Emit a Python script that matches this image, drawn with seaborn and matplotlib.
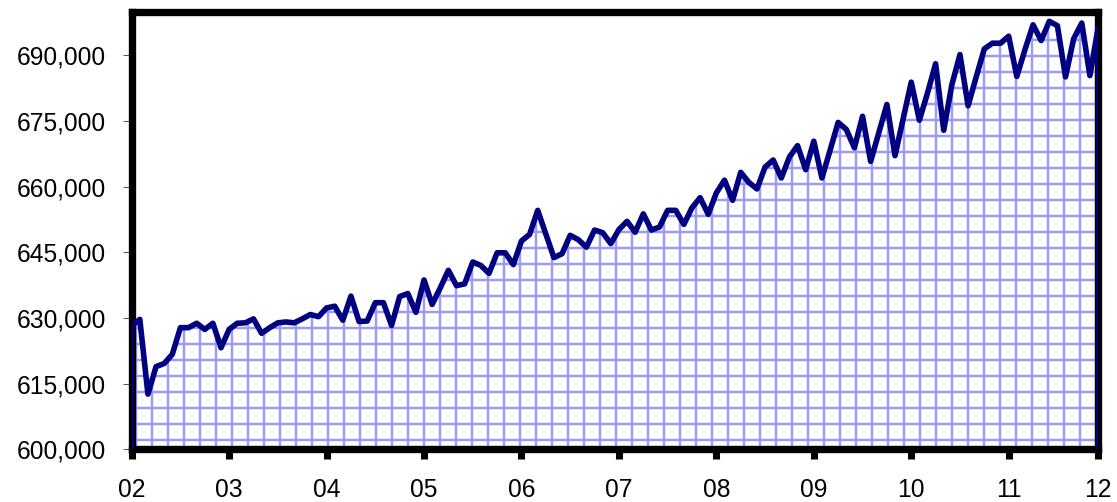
import numpy as np
import pandas as pd
import matplotlib
matplotlib.use('Agg')
import matplotlib.pyplot as plt
import matplotlib.ticker as mticker
import seaborn as sns

## Monthly values, Jan 2002 - Dec 2011 (in persons)
employment = [628200, 629700, 612600, 618900, 619600, 621700, 627800, 627800, 628800, 627400, 628800, 623200,
              627400, 628800, 628900, 629800, 626500, 627800, 628900, 629100, 628900, 629800, 630800, 630300,
              632300, 632700, 629500, 635000, 629200, 629300, 633500, 633500, 628300, 634900, 635600, 631300,
              638700, 633100, 636900, 640900, 637400, 637800, 642800, 642000, 640200, 644900, 644900, 642200,
              647600, 649100, 654600, 649200, 643800, 644700, 648900, 647900, 646200, 650100, 649500, 647000,
              650200, 652100, 649600, 653800, 650100, 650800, 654600, 654600, 651400, 655200, 657500, 653700,
              658600, 661500, 656900, 663300, 661000, 659500, 664500, 666100, 662000, 666800, 669400, 663900,
              670400, 662000, 668300, 674700, 673100, 668900, 676100, 665800, 672300, 678800, 667100, 675500,
              683900, 675200, 681400, 688100, 672900, 683300, 690200, 678500, 685100, 691500, 692800, 692800,
              694400, 685200, 691300, 697000, 693400, 697800, 696800, 685100, 693800, 697400, 685400, 696200]
year_labels = ['02', '03', '04', '05', '06', '07', '08', '09', '10', '11', '12']
y_ticks = [600000, 615000, 630000, 645000, 660000, 675000, 690000]
y_floor = 600000
y_top = 700000

df = pd.DataFrame({'month': np.arange(len(employment)), 'value': employment})

sns.set_style('white')
plt.rcParams['font.family'] = ['Liberation Sans', 'DejaVu Sans']
plt.rcParams['hatch.linewidth'] = 1.8

navy = '#000080'
grid_blue = '#9999FF'

fig = plt.figure(figsize=(1117 / 96, 502 / 96), dpi=96)
ax = fig.add_axes([0.1179, 0.105, 0.983 - 0.1179, 0.9767 - 0.105])

## hatched area under the line
ax.fill_between(df['month'], df['value'], y_floor, facecolor='white', edgecolor=grid_blue,
                hatch='+', linewidth=0, zorder=1)
sns.lineplot(data=df, x='month', y='value', color=navy, linewidth=4.2, ax=ax, zorder=4)
ax.lines[-1].set_solid_joinstyle('round')
## area outline at both ends
ends = df.iloc[[0, -1]]
ax.vlines(ends['month'], y_floor, ends['value'], color=navy, linewidth=3, zorder=4)

ax.set_xlim(0, len(employment) - 1)
ax.set_ylim(y_floor, y_top)

xt = list(range(0, len(employment), 12)) + [len(employment) - 1]
ax.set_xticks(xt)
ax.set_xticklabels(year_labels)
ax.set_yticks(y_ticks)
ax.yaxis.set_major_formatter(mticker.FuncFormatter(lambda v, p: '{:,.0f}'.format(v)))

ax.tick_params(axis='x', bottom=True, direction='out', length=7.5, width=5.3, color='black',
               pad=14, labelsize=18.5, labelcolor='black')
ax.tick_params(axis='y', left=True, direction='out', length=6.5, width=0.75, color='#555555',
               pad=13, labelsize=18.5, labelcolor='black')

for sp in ax.spines.values():
    sp.set_visible(True)
    sp.set_color('black')
    sp.set_linewidth(5.5)
    sp.set_capstyle('projecting')
    sp.set_zorder(3)

ax.set_xlabel('')
ax.set_ylabel('')

plt.savefig('out.png', dpi=96, facecolor='white')
